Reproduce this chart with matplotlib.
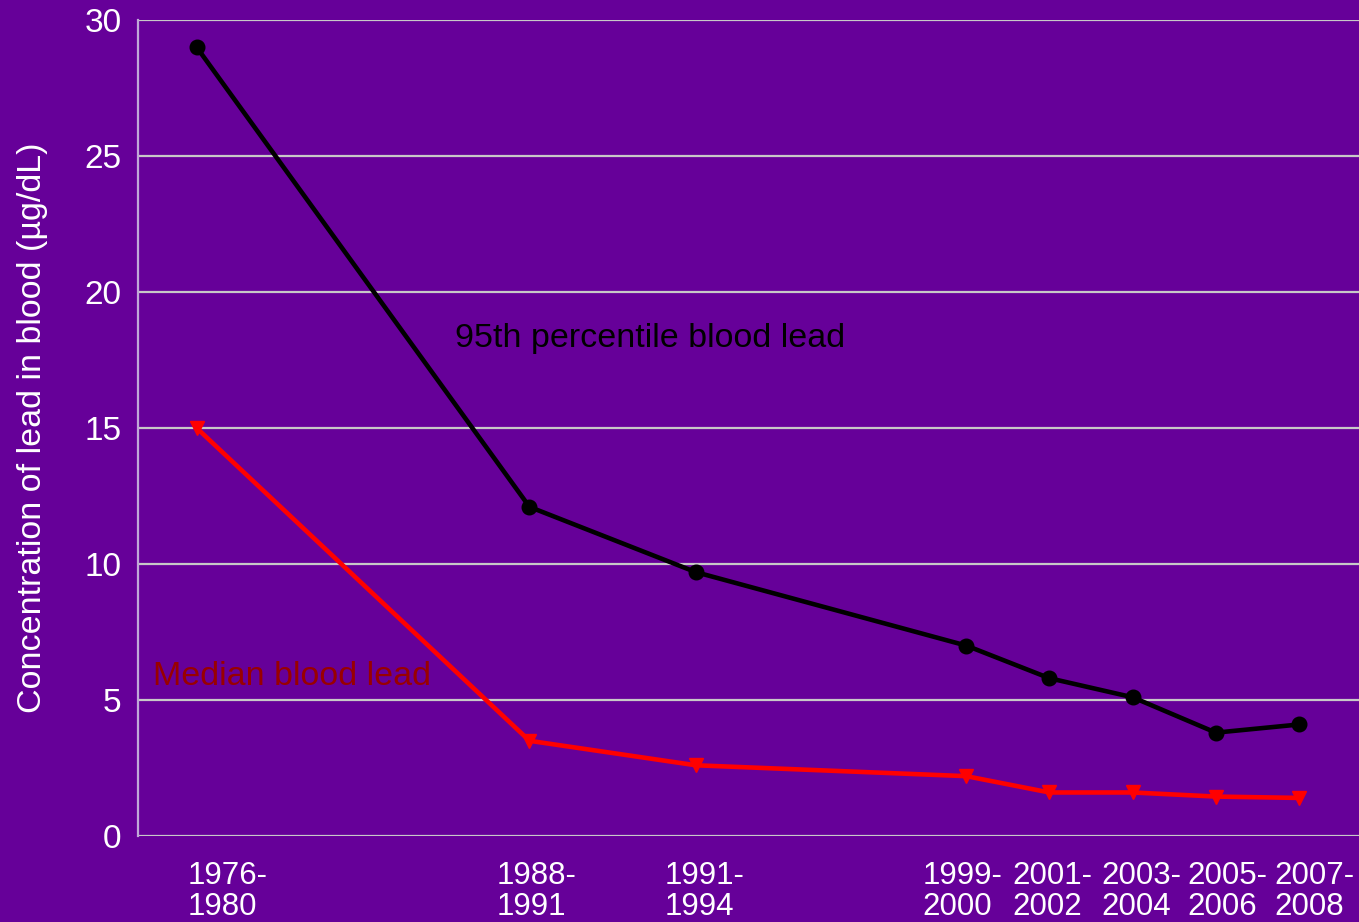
import matplotlib
matplotlib.use("Agg")
import matplotlib.pyplot as plt

# survey periods and blood lead values (ug/dL)
periods = ["1976-\n1980", "1988-\n1991", "1991-\n1994", "1999-\n2000",
           "2001-\n2002", "2003-\n2004", "2005-\n2006", "2007-\n2008"]
p95 = [29.0, 12.1, 9.7, 7.0, 5.8, 5.1, 3.8, 4.1]
median = [15.0, 3.5, 2.6, 2.2, 1.6, 1.6, 1.45, 1.4]

# category spacing as drawn in the original slide chart
x_pos = [0, 4, 6, 9.25, 10.25, 11.25, 12.25, 13.25]
label_pos = [0.37, 4.08, 6.11, 9.2, 10.29, 11.35, 12.39, 13.43]

bg = "#660099"
plt.rcParams["font.family"] = ["Liberation Sans", "DejaVu Sans"]

fig = plt.figure(figsize=(13.59, 9.22), dpi=100, facecolor=bg)
ax = fig.add_axes([138 / 1359, 86 / 922, 1 - 138 / 1359, 816 / 922])
ax.set_facecolor(bg)

ax.plot(x_pos, p95, color="black", lw=3.3, marker="o", markersize=10.5, zorder=3)
ax.plot(x_pos, median, color="#ff0000", lw=3.3, marker="v", markersize=10,
        markeredgecolor="#ff0000", zorder=3)

ax.set_xlim(-0.705, 13.97)
ax.set_ylim(0, 30)
ax.set_yticks([0, 5, 10, 15, 20, 25, 30])
ax.set_xticks(label_pos)
ax.set_xticklabels(periods, multialignment="left", linespacing=1.05)
ax.tick_params(axis="y", length=0, labelsize=24, labelcolor="white", pad=12)
ax.tick_params(axis="x", length=0, labelsize=22.5, labelcolor="white", pad=18)

ax.grid(axis="y", color="#c8c8c8", lw=1.6)
ax.set_axisbelow(True)
for s in ["top", "right", "bottom"]:
    ax.spines[s].set_visible(False)
ax.spines["left"].set_color("#c0a8d8")
ax.spines["left"].set_linewidth(1.6)

ax.text(5.45, 18.3, "95th percentile blood lead", color="black",
        fontsize=24.5, ha="center", va="center")
ax.text(1.14, 5.85, "Median blood lead", color="#990000",
        fontsize=24.5, ha="center", va="center")

fig.text(33 / 1359, 1 - 428 / 922, "Concentration of lead in blood (\u00b5g/dL)",
         rotation=90, color="white", fontsize=24.5, ha="center", va="center")

fig.savefig("out.png", dpi=100, facecolor=bg)
